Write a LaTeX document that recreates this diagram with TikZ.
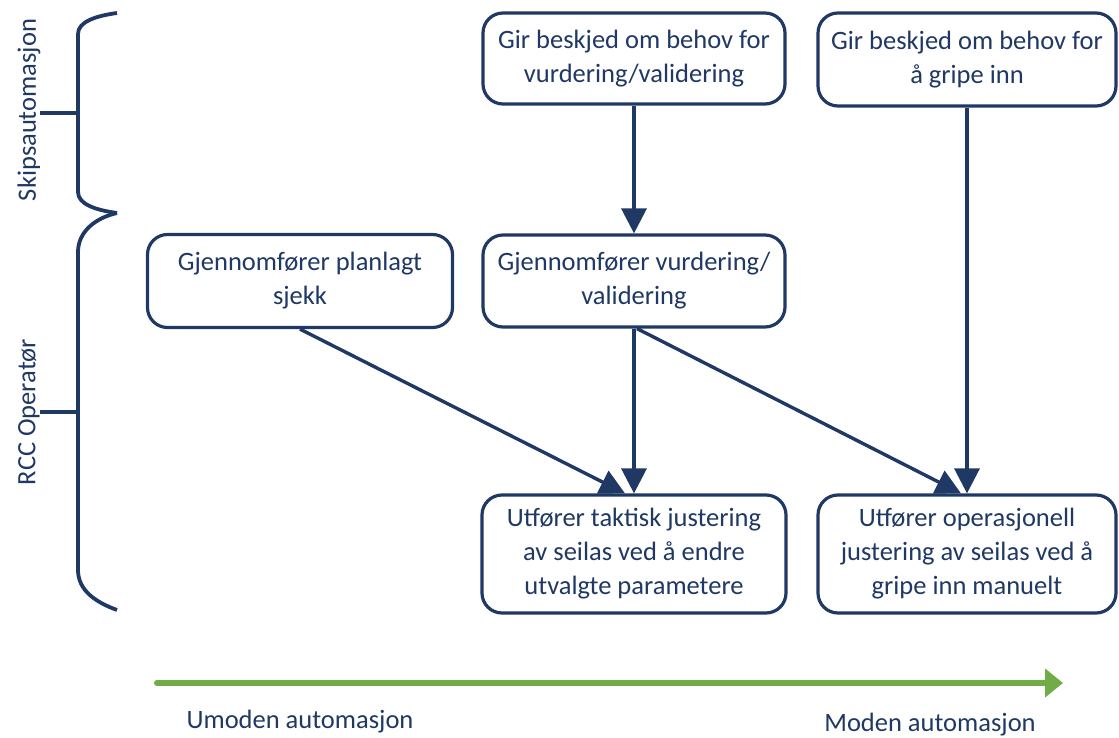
\documentclass[tikz,border=0pt]{standalone}
\usepackage{fontspec}
\setmainfont{Carlito}
\usetikzlibrary{arrows.meta}
\definecolor{navy}{HTML}{1F3864}
\definecolor{leafgreen}{HTML}{70AD47}
\begin{document}
\begin{tikzpicture}[x=1pt,y=-1pt,
  every node/.style={text=navy,font=\fontsize{26.5}{34}\selectfont},
  stepbox/.style={draw=navy,line width=3.2pt,rounded corners=20pt,fill=white,
    align=center,inner sep=0pt},
  flow/.style={draw=navy,line width=3.4pt,-{Triangle[length=25pt,width=25pt]}},
  brace/.style={draw=navy,line width=3.8pt},
  maturity/.style={draw=leafgreen,line width=6pt,line cap=round,
    -{Triangle[length=18pt,width=28pt,line cap=butt]}}]
\useasboundingbox (0,0) rectangle (1119,738);

% boxes
\node[stepbox,minimum width=302pt,minimum height=91pt] (b1) at (634,58.5)
  {Gir beskjed om behov for\\vurdering/validering};
\node[stepbox,minimum width=298pt,minimum height=93pt] (b2) at (967,59.5)
  {Gir beskjed om behov for\\å gripe inn};
\node[stepbox,minimum width=305pt,minimum height=93pt] (b3) at (300,281)
  {Gjennomfører planlagt\\sjekk};
\node[stepbox,minimum width=302pt,minimum height=92pt] (b4) at (634,281)
  {Gjennomfører vurdering/\\validering};
\node[stepbox,minimum width=304pt,minimum height=118pt] (b5) at (634,554)
  {Utfører taktisk justering\\av seilas ved å endre\\utvalgte parametere};
\node[stepbox,minimum width=298pt,minimum height=118pt] (b6) at (967,554)
  {Utfører operasjonell\\justering av seilas ved å\\gripe inn manuelt};

% connectors
\draw[flow] (b1.south) -- (b4.north);
\draw[flow] (b2.south) -- (b6.north);
\draw[flow] (b3.south) -- ([xshift=-9pt]b5.north);
\draw[flow] (b4.south) -- (b5.north);
\draw[flow] ([xshift=3pt]b4.south) -- ([xshift=-6pt]b6.north);

% braces on the left
\draw[brace] (117,13) .. controls (95,16) and (78,22) .. (78,34) -- (78,192)
  .. controls (78,204) and (95,210) .. (117,213);
\draw[brace] (117,213) .. controls (95,218) and (78,232) .. (78,252) -- (78,570)
  .. controls (78,590) and (95,602) .. (117,610);
\draw[brace] (40,113) -- (78,113);
\draw[brace] (40,412) -- (78,412);
\node[rotate=90] (lab1) at (29,110) {Skipsautomasjon};
\node[rotate=90] (lab2) at (29,412) {RCC Operatør};

% maturity scale
\coordinate (gs) at (157,683);
\coordinate (ge) at (1063,683);
\draw[maturity] (gs) -- (ge);
\node (lo) at (300,722) {Umoden automasjon};
\node (hi) at (930,725) {Moden automasjon};
\end{tikzpicture}
\end{document}
